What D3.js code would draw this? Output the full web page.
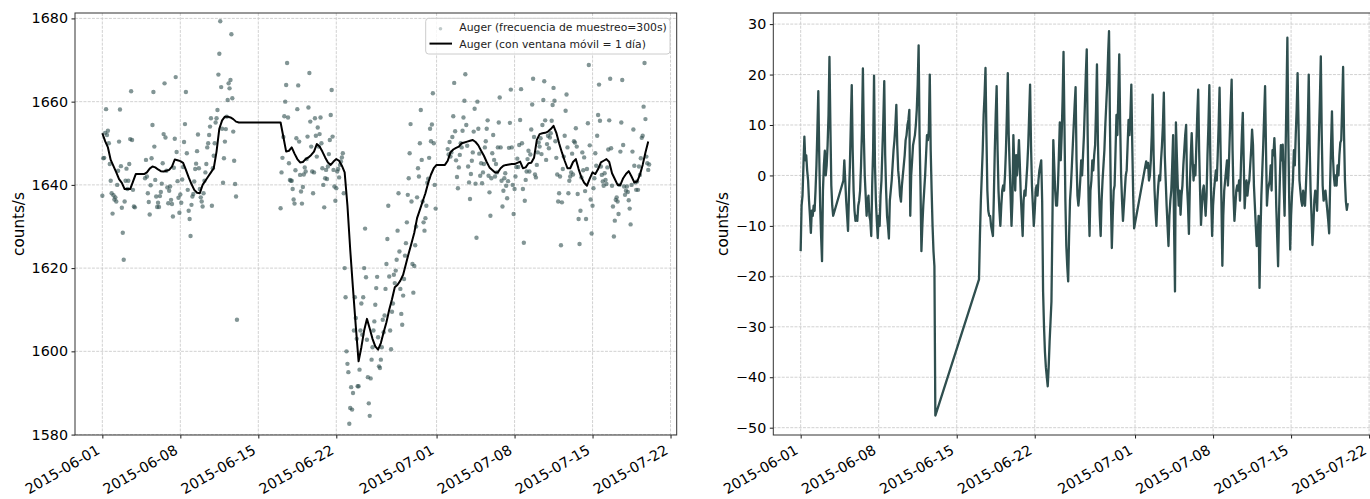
<!DOCTYPE html>
<html><head><meta charset="utf-8">
<script src="https://cdn.jsdelivr.net/npm/d3@7"></script>
<style>
body{margin:0;background:#fff}
svg{display:block}
text{font-family:"DejaVu Sans",sans-serif}
</style>
</head><body>
<svg id="chart" width="1370" height="499"></svg>
<script>
// ---------------- DATA ----------------
const startDate = "2015-06-01T00:00:00Z";
const residualStepHours = 2;   // residual samples (right panel), one every 2 h
const rollingStepHours = 6;    // 1-day moving average samples, one every 6 h

// Residual (counts/s) = raw - moving average, rows of 12 values per day (2 h step)
const residual = [
 -15,-6,-4,2,7.7,3,4,1,-1,-5,-8,-11.4,
 -7,-8,-6,-7,-3,2,9,16.7,4,-6,-12,-17,
 -3,2,4.9,0,2,6,12,23.5,10,-2,-6,-8,
 null,null,null,null,null,null,null,null,null,null,-1,3,
 -1,-5,-8,-11,-4,2,10,17.9,5,-3,-7,-9,
 -8,-9,-6,-5,-3,2,9,21.2,8,0,-4,-8,
 -5,-4,-8,-9,-12,-2,5,19.8,2,-5,-9,-12.4,
 -8,-10,-4,-1,5,11,18.7,4,-3,-8,-10,-12.5,
 -5,-3,-1,2,5,7,10,14,6,1,-1,-4,
 -5.2,-2,0,2,4,7,8,10,11,13,-8,0,
 3,6,7,8,10,13,18,25.8,8,-2,-15,-10,
 -6,-3,0,4,8,7,9,20,5,-3,-10,-15,
 -18,-47.6,null,null,null,null,null,null,null,null,null,null,
 null,null,null,null,null,null,null,null,null,null,null,null,
 null,null,null,null,null,null,null,null,null,null,null,null,
 null,null,null,null,null,null,null,null,null,null,null,null,
 -20.6,-12,-5,0,5,12,16,21.3,8,-3,-7,-8,
 -8,-10,-11,-12,-4,5,12,17.7,5,-3,-7,-10,
 -6,-3,-2,-3,0,5,12,20.3,8,2,-4,-10,
 -5,8,2,-3,4,0,3,7,2,-4,-8,-12,
 -5,-3,-4,-1,2,6,12,18,6,-2,-6,-10,
 -7,-3,-2,-4,-1,1,2,3,-5,-23,-30,-35,
 -38,-40,-41.8,-38,-33,-29,-25,-10,7,2,-3,-6,
 -6,-2,4,10.5,3,8,15,24.5,10,-5,-14,-18,
 -21,-12,-5,-2,2,6,10,14,17.5,3,-4,-6,
 -4,-1,3,0,4,8,14,20,25,8,-5,-12,
 -3,-1,3,1,4,6,13,22,7,-2,-8,-12,
 -5,-1,2,5,10,14,18,24,28.6,10,-5,-14.4,
 -8,-3,-2,5,12,8,16,24,10,0,-5,-9,
 -6,-3,0,1,6,11,8,12,18,6,-4,-10.5,
 null,null,null,null,null,null,null,null,null,null,null,null,
 2.8,1.5,2.5,-1,0,3,8,16,4,-3,-7,-10,
 -5,-2,0,-1,3,6,10,16.4,4,-1,-6,-10,
 -14,-8,-5,-3,2,8,-10,-23,10.5,4,-2,-6,
 -3,-7.8,-4,-2,2,5,8,10,-2,-6,-11.6,-2,
 4,8.4,3,-1,2,0,6,12,17,5,-3,-9.8,
 -6,-3,-2,-5,-8,-4,4,10,17.9,4,-5,-12,
 -6,-3,-1,1,-1,4,10,17.4,6,-5,-17.9,-8,
 -3,-1,1,3,-2,2,8,14,19,5,-4,-9,
 -6,-3,-2,-3,-1,-5,2,8,12.4,3,-6.5,-3,
 -1,-4,-2,-1,2,5,9.1,6,-2,-6,-10,-14,
 -12,-8,-22.3,-12,-4,1,6,12,17.7,5,-6,-3,
 -2,-1,2,-3,5,4,7.4,3,-6,-12,-18,-8,
 0,6,3,6.1,-2,-8,4,15,27.3,8,-5,-14.7,
 -8,-3.8,-1,5,2,8,13,20.3,10,-1,-3,-5,
 -6,-3,-5,-6,-2,3,10,20,6,-3,-8,-13.8,
 -10,-5,-3,-4,-7,0,8,15,23.6,8,-2,-5,
 -4,-3,-5,-7,-9,-11.5,-2,6,12.7,4,0,-2,
 0,-2,2,0,4,6.5,7,14,21.5,8,-1,-5.2,
 -6.8,-5.5
];

// 1-day moving average (counts/s), rows of 4 values per day (6 h step)
const rolling = [
 1652.4,1650.5,1649,1646,
 1644.5,1643,1641.4,1640.5,
 1639,1639,1639,1640.8,
 1642.6,1642.6,1642.6,1642.6,
 1643,1643.9,1644.4,1644.2,
 1643.7,1643.3,1643.2,1643.4,
 1643.6,1644.4,1646.1,1645.9,
 1645.7,1645.3,1643.6,1641.8,
 1640.2,1638.8,1638.1,1638,
 1640,1641,1642,1643,
 1644,1648,1653.5,1655.5,
 1656.4,1656.4,1656.2,1655.8,
 1655.2,1655,1655,1655,
 1655,1655,1655,1655,
 1655,1655,1655,1655,
 1655,1655,1655,1655,
 1655,1651.5,1648,1648.2,
 1649,1647.5,1646.2,1645.4,
 1645.5,1646.2,1646.6,1647.2,
 1648,1649.8,1649.2,1648,
 1646.6,1645.4,1644.8,1645.6,
 1646.2,1645.8,1644.6,1643,
 1635,1624.4,1615,1606,
 1597.6,1601,1605,1607.8,
 1605.5,1603,1601.2,1600.4,
 1602,1604.6,1607,1610,
 1612.5,1615.4,1616,1617,
 1618.4,1621,1623.6,1626,
 1628.5,1632,1634,1636,
 1638,1640.5,1642.5,1644,
 1644.8,1644.8,1644.8,1644.8,
 1645.8,1647.8,1648.5,1648.9,
 1649.2,1650,1650.2,1650.4,
 1650.6,1650.8,1650.3,1649.5,
 1648.2,1647,1645.5,1644.2,
 1643.6,1643,1643,1644,
 1644.6,1644.8,1644.9,1645,
 1645,1645.3,1645.6,1644,
 1644.2,1645.2,1645.3,1646.5,
 1650.8,1652.2,1652.4,1652.5,
 1652.8,1653.4,1654.2,1652.5,
 1650,1647.8,1645.8,1644,
 1644,1645.5,1646.2,1643.8,
 1641.8,1640.5,1639.8,1641.5,
 1643,1642.6,1643.8,1645.4,
 1645.8,1646.2,1645.5,1642.8,
 1641.4,1640,1640,1641.6,
 1642.6,1643.3,1642,1640.6,
 1640.8,1642.4,1644.8,1647.8,
 1650.4
];

const xTickLabels = ["2015-06-01","2015-06-08","2015-06-15","2015-06-22","2015-07-01","2015-07-08","2015-07-15","2015-07-22"];
const xDomainLabels = ["2015-05-29T13:05:00Z","2015-07-22T13:19:00Z"];
const leftYTicks = [1580,1600,1620,1640,1660,1680];
const leftYDomain = [1579.9,1681.3];
const rightYTicks = [-50,-40,-30,-20,-10,0,10,20,30];
const rightYDomain = [-51.45,32.2];
const yAxisLabel = "counts/s";
const legendLabels = ["Auger (frecuencia de muestreo=300s)","Auger (con ventana móvil = 1 día)"];

// ---------------- BUILD SERIES ----------------
const t0 = new Date(startDate).getTime();
const H = 3600 * 1000;
const residualPts = residual.map((v,i)=>({t:new Date(t0 + i*residualStepHours*H), v}))
  .filter(d=>d.v!==null);
const rollingPts = rolling.map((v,i)=>({t:new Date(t0 + i*rollingStepHours*H), v}));
// raw Auger rate = moving average + residual (the right panel is raw minus moving average)
const ratio = rollingStepHours / residualStepHours;
const rawPts = residual.map((v,i)=>{
  if (v===null) return null;
  const j = Math.min(rolling.length-1, Math.round(i/ratio));
  return {t:new Date(t0 + i*residualStepHours*H), v: rolling[j] + v};
}).filter(d=>d!==null);

// ---------------- DRAW ----------------
const svg = d3.select("#chart");
const parseDay = d3.utcParse("%Y-%m-%d");
const tickDates = xTickLabels.map(parseDay);
const xDomain = xDomainLabels.map(s=>new Date(s));
const TOP = 13, BOTTOM = 435;
const dark = "#2f4f4f";

function panel(x0, x1, yDomain, yTicks, yFmt, labelX, clipId) {
  const x = d3.scaleUtc().domain(xDomain).range([x0, x1]);
  const y = d3.scaleLinear().domain(yDomain).range([BOTTOM, TOP]);
  const g = svg.append("g");
  svg.append("clipPath").attr("id", clipId).append("rect")
    .attr("x", x0).attr("y", TOP).attr("width", x1-x0).attr("height", BOTTOM-TOP);

  const grid = g.append("g").attr("stroke","#b0b0b0").attr("stroke-width",0.8)
    .attr("stroke-dasharray","2.96,1.28").attr("opacity",0.7);
  grid.selectAll("line.v").data(tickDates).join("line").attr("class","v")
    .attr("x1",d=>x(d)).attr("x2",d=>x(d)).attr("y1",TOP).attr("y2",BOTTOM);
  grid.selectAll("line.h").data(yTicks).join("line").attr("class","h")
    .attr("x1",x0).attr("x2",x1).attr("y1",d=>y(d)).attr("y2",d=>y(d));

  const xa = g.append("g").attr("transform",`translate(0,${BOTTOM})`)
    .call(d3.axisBottom(x).tickValues(tickDates).tickSize(3.5).tickPadding(3.5)
      .tickFormat((d,i)=>xTickLabels[i]));
  xa.select(".domain").remove();
  xa.selectAll(".tick line").attr("stroke","#000").attr("stroke-width",0.9);
  xa.selectAll(".tick text").attr("font-size","14.3px").attr("fill","#000")
    .attr("font-family","DejaVu Sans").attr("text-anchor","end")
    .attr("y",0).attr("dy",0).attr("transform","translate(-2,18) rotate(-30)");

  const ya = g.append("g").attr("transform",`translate(${x0},0)`)
    .call(d3.axisLeft(y).tickValues(yTicks).tickSize(3.5).tickPadding(3.5).tickFormat(yFmt));
  ya.select(".domain").remove();
  ya.selectAll(".tick line").attr("stroke","#000").attr("stroke-width",0.9);
  ya.selectAll(".tick text").attr("font-size","14.3px").attr("fill","#000")
    .attr("font-family","DejaVu Sans");

  g.append("text").attr("transform",`translate(${labelX},${(TOP+BOTTOM)/2}) rotate(-90)`)
    .attr("text-anchor","middle").attr("font-size","15.2px").attr("fill","#000")
    .text(yAxisLabel);

  const plot = svg.append("g").attr("clip-path",`url(#${clipId})`);
  return {x, y, g, plot, x0, x1};
}

function frame(p) {
  svg.append("rect").attr("x",p.x0).attr("y",TOP).attr("width",p.x1-p.x0).attr("height",BOTTOM-TOP)
    .attr("fill","none").attr("stroke","#333").attr("stroke-width",1);
}

// Left panel
const L = panel(75, 676.7, leftYDomain, leftYTicks, d=>d3.format("d")(d), 23.5, "clipL");
L.plot.append("g").selectAll("circle").data(rawPts).join("circle")
  .attr("cx",d=>L.x(d.t)).attr("cy",d=>L.y(d.v)).attr("r",2.2)
  .attr("fill",dark).attr("fill-opacity",0.6);
L.plot.append("path").datum(rollingPts)
  .attr("d", d3.line().x(d=>L.x(d.t)).y(d=>L.y(d.v)))
  .attr("fill","none").attr("stroke","#000").attr("stroke-width",2).attr("stroke-linejoin","round");
frame(L);

// legend
const lg = svg.append("g");
lg.append("rect").attr("x",425.7).attr("y",18.3).attr("width",244.3).attr("height",35.7).attr("rx",3)
  .attr("fill","#fff").attr("fill-opacity",0.8).attr("stroke","#cccccc");
lg.append("circle").attr("cx",440.5).attr("cy",28.8).attr("r",1.8).attr("fill",dark).attr("fill-opacity",0.3);
lg.append("line").attr("x1",429.5).attr("x2",452).attr("y1",43.6).attr("y2",43.6)
  .attr("stroke","#000").attr("stroke-width",2);
lg.selectAll("text").data(legendLabels).join("text")
  .attr("x",459.3).attr("y",(d,i)=>i===0?27.3:44).attr("dy","0.35em")
  .attr("font-size","10.8px").attr("fill","#222").text(d=>d);

// Right panel
const R = panel(773.3, 1375.3, rightYDomain, rightYTicks,
  d=> d<0 ? "\u2212"+Math.abs(d) : String(d), 727.5, "clipR");
R.plot.append("path").datum(residualPts)
  .attr("d", d3.line().x(d=>R.x(d.t)).y(d=>R.y(d.v)))
  .attr("fill","none").attr("stroke",dark).attr("stroke-width",2.3).attr("stroke-linejoin","round");
frame(R);
</script>
</body></html>
